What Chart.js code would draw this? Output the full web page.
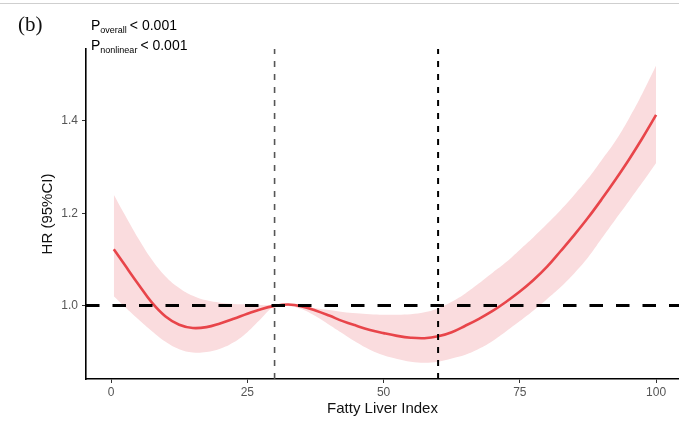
<!DOCTYPE html>
<html>
<head>
<meta charset="utf-8">
<script src="https://cdn.jsdelivr.net/npm/chart.js@4"></script>
<style>
  html, body { margin: 0; padding: 0; background: #fff; }
  #wrap { position: relative; width: 679px; height: 422px; overflow: hidden; }
  #topRule { position: absolute; left: 0; top: 3px; width: 679px; height: 1px; background: #cfcfcf; }
  #panelTag { position: absolute; left: 18px; top: 14px; font-family: "Liberation Serif", "Times New Roman", serif; font-size: 21px; color: #111; line-height: 1; }
  .pval { position: absolute; font-family: "Liberation Sans", Arial, sans-serif; font-size: 14px; color: #000; line-height: 1; white-space: nowrap; }
  .pval sub { font-size: 9px; vertical-align: -3px; margin-right: 3px; }
  #p1 { left: 91px; top: 18px; }
  #p2 { left: 91px; top: 38px; }
</style>
</head>
<body>
<div id="wrap">
  <canvas id="c" width="679" height="422"></canvas>
  <div id="topRule"></div>
  <div id="panelTag">(b)</div>
  <div class="pval" id="p1">P<sub>overall</sub>&lt; 0.001</div>
  <div class="pval" id="p2">P<sub>nonlinear</sub>&lt; 0.001</div>
</div>
<script>
// Fatty Liver Index grid and the fitted hazard ratio with its 95% CI
const fli = [0.5, 2.5, 5, 7.5, 10, 12.5, 15, 17.5, 20, 22.5, 25, 27.5, 30, 32.5, 35, 37.5, 40, 42.5, 45, 47.5,
             50, 52.5, 55, 57.5, 60, 62.5, 65, 67.5, 70, 72.5, 75, 77.5, 80, 82.5, 85, 87.5, 90, 92.5, 95, 97.5, 100];
const hr = [1.122, 1.088, 1.046, 1.006, 0.976, 0.958, 0.951, 0.953, 0.961, 0.971, 0.982, 0.992, 0.999, 1.002, 0.998,
            0.989, 0.978, 0.966, 0.956, 0.947, 0.940, 0.934, 0.930, 0.929, 0.933, 0.942, 0.956, 0.971, 0.988, 1.008,
            1.030, 1.055, 1.084, 1.118, 1.153, 1.190, 1.230, 1.272, 1.316, 1.363, 1.413];
const hrUpper = [1.240, 1.197, 1.145, 1.099, 1.063, 1.038, 1.021, 1.011, 1.006, 1.003, 1.002, 1.001, 1.000, 1.003, 0.999,
                 0.994, 0.990, 0.986, 0.983, 0.981, 0.980, 0.980, 0.981, 0.985, 0.994, 1.008, 1.026, 1.048, 1.071, 1.094,
                 1.121, 1.148, 1.177, 1.207, 1.240, 1.275, 1.315, 1.356, 1.405, 1.460, 1.520];
const hrLower = [1.020, 0.997, 0.970, 0.944, 0.921, 0.905, 0.898, 0.899, 0.906, 0.920, 0.942, 0.971, 0.998, 0.999, 0.992,
                 0.977, 0.958, 0.939, 0.920, 0.904, 0.892, 0.884, 0.878, 0.876, 0.878, 0.885, 0.893, 0.906, 0.923, 0.944,
                 0.966, 0.989, 1.014, 1.040, 1.070, 1.104, 1.145, 1.186, 1.226, 1.267, 1.309];

// reference line and cut-points
const refHR = 1.0;
const cutPoints = [30, 60];

// axis ticks and ranges
const xTicks = [0, 25, 50, 75, 100];
const yTicks = [1.0, 1.2, 1.4];
const xRange = [-4.6, 104.2];
const yRange = [0.8405, 1.556];

const pts = (ys) => fli.map((x, i) => ({ x: x, y: ys[i] }));

const ctx = document.getElementById('c').getContext('2d');
new Chart(ctx, {
  type: 'line',
  data: {
    datasets: [
      {
        label: 'cut30',
        data: [{ x: cutPoints[0], y: yRange[0] }, { x: cutPoints[0], y: yRange[1] }],
        borderColor: '#555555', borderWidth: 1.6, borderDash: [6, 7],
        pointRadius: 0, fill: false, order: 0
      },
      {
        label: 'cut60',
        data: [{ x: cutPoints[1], y: yRange[0] }, { x: cutPoints[1], y: yRange[1] }],
        borderColor: '#000000', borderWidth: 2, borderDash: [6, 7],
        pointRadius: 0, fill: false, order: 0
      },
      {
        label: 'ref',
        data: [{ x: xRange[0], y: refHR }, { x: xRange[1], y: refHR }],
        borderColor: '#000000', borderWidth: 3, borderDash: [13.5, 13],
        pointRadius: 0, fill: false, order: 1
      },
      {
        label: 'HR',
        data: pts(hr),
        borderColor: '#E8454A', borderWidth: 2.6,
        pointRadius: 0, fill: false, tension: 0.4, order: 2
      },
      {
        label: 'upper',
        data: pts(hrUpper),
        borderWidth: 0, borderColor: 'rgba(0,0,0,0)',
        backgroundColor: '#FADCDE',
        pointRadius: 0, fill: '+1', tension: 0.4, order: 3
      },
      {
        label: 'lower',
        data: pts(hrLower),
        borderWidth: 0, borderColor: 'rgba(0,0,0,0)',
        pointRadius: 0, fill: false, tension: 0.4, order: 4
      }
    ]
  },
  options: {
    responsive: false,
    animation: false,
    layout: { padding: { top: 49, left: 0, right: 0, bottom: 0 } },
    plugins: { legend: { display: false }, tooltip: { enabled: false } },
    scales: {
      x: {
        type: 'linear',
        min: xRange[0], max: xRange[1],
        afterBuildTicks: (s) => { s.ticks = xTicks.map(v => ({ value: v })); },
        afterFit: (s) => { s.height = 43; },
        grid: { drawOnChartArea: false, drawTicks: true, tickLength: 4, color: '#333333', lineWidth: 1 },
        border: { display: true, color: '#000000', width: 1.6 },
        ticks: {
          padding: 2, color: '#555555', maxRotation: 0,
          font: { family: '"Liberation Sans", Arial, sans-serif', size: 12 },
          callback: (v) => String(v)
        },
        title: {
          display: true, text: 'Fatty Liver Index', color: '#111111',
          font: { family: '"Liberation Sans", Arial, sans-serif', size: 15 },
          padding: { top: 0, bottom: 4 }
        }
      },
      y: {
        type: 'linear',
        min: yRange[0], max: yRange[1],
        afterBuildTicks: (s) => { s.ticks = yTicks.map(v => ({ value: v })); },
        afterFit: (s) => { s.width = 86; },
        grid: { drawOnChartArea: false, drawTicks: true, tickLength: 4, color: '#333333', lineWidth: 1 },
        border: { display: true, color: '#000000', width: 1.6 },
        ticks: {
          padding: 4, color: '#555555',
          font: { family: '"Liberation Sans", Arial, sans-serif', size: 12 },
          callback: (v) => Number(v).toFixed(1)
        },
        title: {
          display: true, text: 'HR (95%CI)', color: '#111111',
          font: { family: '"Liberation Sans", Arial, sans-serif', size: 15 },
          padding: { top: 39, bottom: 0 }
        }
      }
    }
  }
});
</script>
</body>
</html>
